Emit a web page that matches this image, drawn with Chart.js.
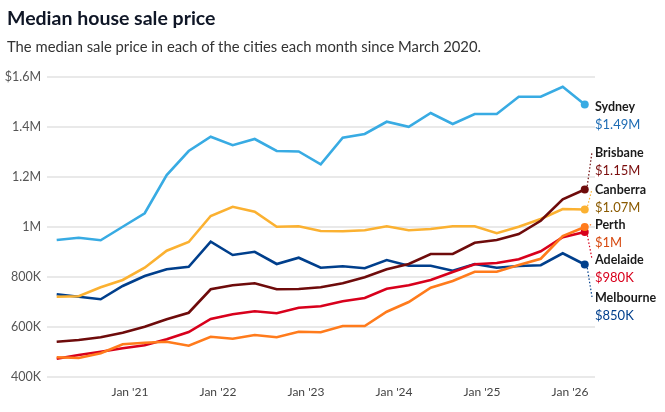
<!DOCTYPE html>
<html>
<head>
<meta charset="utf-8">
<script src="https://cdn.jsdelivr.net/npm/chart.js@4.4.1/dist/chart.umd.min.js"></script>
<style>
  html, body { margin: 0; padding: 0; background: #fff; }
  #wrap { position: relative; width: 665px; height: 412px; overflow: hidden; }
  h1 { position: absolute; left: 7px; top: 6px; margin: 0; font: bold 19.5px Lato, sans-serif; color: #0f1626; white-space: nowrap; }
  .sub { position: absolute; left: 7px; top: 37px; margin: 0; font: 14.8px Lato, sans-serif; color: #333; white-space: nowrap; }
  canvas { position: absolute; left: 0; top: 0; }
</style>
</head>
<body>
<div id="wrap">
  <canvas id="chart" width="665" height="412"></canvas>
  <h1>Median house sale price</h1>
  <p class="sub">The median sale price in each of the cities each month since March 2020.</p>
</div>
<script>
// quarterly readings, Mar 2020 .. Mar 2026 (values in $K)
const quarters = [
  'Mar 2020', 'Jun 2020', 'Sep 2020', 'Dec 2020',
  'Mar 2021', 'Jun 2021', 'Sep 2021', 'Dec 2021',
  'Mar 2022', 'Jun 2022', 'Sep 2022', 'Dec 2022',
  'Mar 2023', 'Jun 2023', 'Sep 2023', 'Dec 2023',
  'Mar 2024', 'Jun 2024', 'Sep 2024', 'Dec 2024',
  'Mar 2025', 'Jun 2025', 'Sep 2025', 'Dec 2025',
  'Mar 2026'
];

const sydney    = [948, 957, 947, 1001, 1055, 1208, 1304, 1361, 1327, 1352, 1304, 1302, 1251, 1357, 1372, 1421, 1401, 1456, 1412, 1452, 1452, 1521, 1521, 1561, 1490];
const brisbane  = [541, 548, 559, 577, 601, 631, 657, 751, 767, 775, 751, 752, 759, 775, 799, 831, 852, 892, 892, 937, 948, 972, 1025, 1111, 1150];
const canberra  = [721, 723, 759, 788, 837, 905, 940, 1044, 1081, 1061, 1001, 1003, 984, 983, 987, 1003, 987, 992, 1003, 1003, 975, 1001, 1032, 1072, 1070];
const perth     = [479, 476, 495, 531, 537, 541, 525, 561, 553, 568, 559, 581, 579, 604, 604, 661, 700, 757, 784, 821, 821, 848, 873, 964, 1000];
const adelaide  = [473, 488, 501, 515, 527, 551, 580, 632, 651, 663, 655, 677, 683, 703, 716, 753, 767, 788, 820, 851, 856, 871, 903, 959, 980];
const melbourne = [731, 721, 711, 764, 804, 831, 841, 941, 888, 901, 852, 877, 837, 843, 835, 868, 845, 845, 825, 852, 837, 844, 847, 895, 850];

const cityNames    = ['Sydney', 'Brisbane', 'Canberra', 'Perth', 'Adelaide', 'Melbourne'];
const latestLabels = ['$1.49M', '$1.15M', '$1.07M', '$1M', '$980K', '$850K'];

const xTickMonths = [12, 24, 36, 48, 60, 72];
const xTickLabels = ["Jan '21", "Jan '22", "Jan '23", "Jan '24", "Jan '25", "Jan '26"];
const yTickValues = [400, 600, 800, 1000, 1200, 1400, 1600];
const yTickLabels = ['400K', '600K', '800K', '1M', '1.2M', '1.4M', '$1.6M'];

const MONTHS = ['Jan','Feb','Mar','Apr','May','Jun','Jul','Aug','Sep','Oct','Nov','Dec'];
// months since Jan 2020
const xs = quarters.map(q => {
  const [m, y] = q.split(' ');
  return (Number(y) - 2020) * 12 + MONTHS.indexOf(m);
});

const lineColors  = ['#38abe3', '#6e0b0b', '#fbb131', '#ff7b1c', '#d8001c', '#003f8c'];
const valueColors = ['#1e6cb4', '#7a0d0d', '#8a5a00', '#d6480e', '#d8001c', '#003f8c'];
const series = [sydney, brisbane, canberra, perth, adelaide, melbourne];

const datasets = series.map((vals, i) => ({
  label: cityNames[i],
  data: vals.map((v, j) => ({x: xs[j], y: v})),
  borderColor: lineColors[i],
  backgroundColor: lineColors[i],
  borderWidth: 2.6,
  tension: 0,
  pointRadius: vals.map((v, j) => j === vals.length - 1 ? 4 : 0),
  pointBorderWidth: 0,
  pointHoverRadius: 0
}));

// right-hand labels with dotted leaders
const endLabels = {
  id: 'endLabels',
  afterDatasetsDraw(chart) {
    const ctx = chart.ctx;
    const lx = 595;
    const nameY = [107, 153, 190, 225, 260, 298];
    const valY  = [125, 171, 208, 243, 278, 316];
    ctx.save();
    chart.data.datasets.forEach((ds, i) => {
      const meta = chart.getDatasetMeta(i);
      const pt = meta.data[meta.data.length - 1];
      if (i > 0) {
        ctx.beginPath();
        ctx.setLineDash([1.5, 2]);
        ctx.lineWidth = 1.2;
        ctx.strokeStyle = lineColors[i];
        ctx.moveTo(pt.x + 2, pt.y);
        ctx.lineTo(lx - 3, nameY[i] - 1);
        ctx.stroke();
      }
      ctx.setLineDash([]);
      ctx.textAlign = 'left';
      ctx.textBaseline = 'middle';
      ctx.font = 'bold 12.5px Lato, sans-serif';
      ctx.fillStyle = '#1b1b1b';
      ctx.fillText(cityNames[i], lx, nameY[i]);
      ctx.font = '13px Lato, sans-serif';
      ctx.fillStyle = valueColors[i];
      ctx.fillText(latestLabels[i], lx, valY[i]);
    });
    ctx.restore();
  }
};

new Chart(document.getElementById('chart'), {
  type: 'line',
  data: { datasets: datasets },
  plugins: [endLabels],
  options: {
    responsive: false,
    animation: false,
    devicePixelRatio: 1,
    layout: { padding: { top: 77, right: 70, left: 0, bottom: 0 } },
    plugins: {
      legend: { display: false },
      tooltip: { enabled: false }
    },
    scales: {
      x: {
        type: 'linear',
        min: 1.77,
        max: 75.4,
        grid: { display: false, drawTicks: false },
        border: { display: false },
        afterBuildTicks: function(scale) {
          scale.ticks = xTickMonths.map(v => ({value: v}));
        },
        afterFit: function(scale) { scale.height = 35; },
        ticks: {
          autoSkip: false,
          maxRotation: 0,
          padding: 8,
          color: '#444',
          font: { family: 'Lato', size: 12 },
          callback: function(value) {
            const k = xTickMonths.indexOf(value);
            return k >= 0 ? xTickLabels[k] : '';
          }
        }
      },
      y: {
        min: 400,
        max: 1600,
        grid: { color: '#e9e9e9', lineWidth: 2, tickLength: 8 },
        border: { display: false },
        afterBuildTicks: function(scale) {
          scale.ticks = yTickValues.map(v => ({value: v}));
        },
        afterFit: function(scale) { scale.width = 55; },
        ticks: {
          padding: 6,
          color: '#555',
          font: { family: 'Lato', size: 12.5 },
          callback: function(value) {
            const k = yTickValues.indexOf(value);
            return k >= 0 ? yTickLabels[k] : '';
          }
        }
      }
    }
  }
});
</script>
</body>
</html>
